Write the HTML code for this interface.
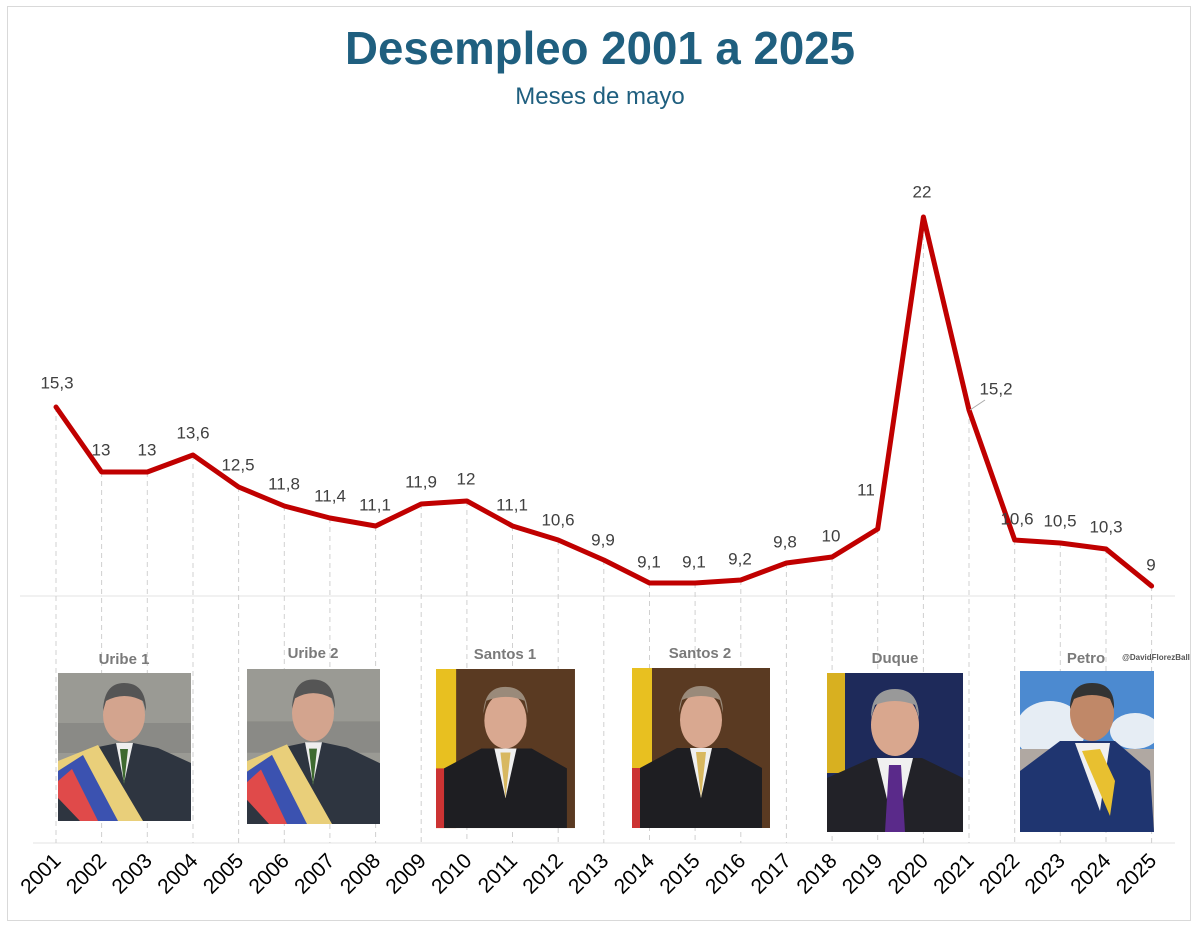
<!DOCTYPE html>
<html><head><meta charset="utf-8"><style>
html,body{margin:0;padding:0;background:#fff}
svg{display:block}
</style></head><body>
<svg width="1200" height="926" viewBox="0 0 1200 926" xmlns="http://www.w3.org/2000/svg" font-family="Liberation Sans, sans-serif">
<rect x="0" y="0" width="1200" height="926" fill="#fff"/>
<rect x="7.5" y="6.5" width="1183" height="914" fill="none" stroke="#d9d9d9" stroke-width="1"/>
<text x="600" y="64" text-anchor="middle" font-size="46" font-weight="bold" fill="#1f5f7f" textLength="510" lengthAdjust="spacingAndGlyphs">Desempleo 2001 a 2025</text>
<text x="600" y="104" text-anchor="middle" font-size="24" fill="#1f5f7f">Meses de mayo</text>
<line x1="20" y1="596" x2="1175" y2="596" stroke="#e3e3e3" stroke-width="1"/>
<line x1="33" y1="843" x2="1175" y2="843" stroke="#e3e3e3" stroke-width="1"/>
<g stroke="#d0d0d0" stroke-width="1" stroke-dasharray="5,4">
<line x1="56" y1="407" x2="56" y2="843"/><line x1="101.6" y1="472" x2="101.6" y2="843"/><line x1="147.3" y1="472" x2="147.3" y2="843"/><line x1="193" y1="455" x2="193" y2="843"/><line x1="238.6" y1="487" x2="238.6" y2="843"/><line x1="284.3" y1="506" x2="284.3" y2="843"/><line x1="329.9" y1="518" x2="329.9" y2="843"/><line x1="375.6" y1="526" x2="375.6" y2="843"/><line x1="421.2" y1="504" x2="421.2" y2="843"/><line x1="466.9" y1="501" x2="466.9" y2="843"/><line x1="512.5" y1="526" x2="512.5" y2="843"/><line x1="558.2" y1="540" x2="558.2" y2="843"/><line x1="603.8" y1="560" x2="603.8" y2="843"/><line x1="649.5" y1="583" x2="649.5" y2="843"/><line x1="695.1" y1="583" x2="695.1" y2="843"/><line x1="740.8" y1="580" x2="740.8" y2="843"/><line x1="786.4" y1="563" x2="786.4" y2="843"/><line x1="832.1" y1="557" x2="832.1" y2="843"/><line x1="877.7" y1="529" x2="877.7" y2="843"/><line x1="923.4" y1="217" x2="923.4" y2="843"/><line x1="969" y1="410" x2="969" y2="843"/><line x1="1014.7" y1="540" x2="1014.7" y2="843"/><line x1="1060.3" y1="543" x2="1060.3" y2="843"/><line x1="1106" y1="549" x2="1106" y2="843"/><line x1="1151.6" y1="586" x2="1151.6" y2="843"/>
</g>
<polyline fill="none" stroke="#c00000" stroke-width="5" stroke-linejoin="round" stroke-linecap="round" points="56,407 101.6,472 147.3,472 193,455 238.6,487 284.3,506 329.9,518 375.6,526 421.2,504 466.9,501 512.5,526 558.2,540 603.8,560 649.5,583 695.1,583 740.8,580 786.4,563 832.1,557 877.7,529 923.4,217 969,410 1014.7,540 1060.3,543 1106,549 1151.6,586"/>
<line x1="970" y1="410" x2="985" y2="400" stroke="#aaa" stroke-width="1"/>
<g font-size="17" fill="#404040" text-anchor="middle" dominant-baseline="middle">
<text x="57" y="384">15,3</text><text x="101" y="451">13</text><text x="147" y="451">13</text><text x="193" y="434">13,6</text><text x="238" y="466">12,5</text><text x="284" y="485">11,8</text><text x="330" y="497">11,4</text><text x="375" y="506">11,1</text><text x="421" y="483">11,9</text><text x="466" y="480">12</text><text x="512" y="506">11,1</text><text x="558" y="521">10,6</text><text x="603" y="541">9,9</text><text x="649" y="563">9,1</text><text x="694" y="563">9,1</text><text x="740" y="560">9,2</text><text x="785" y="543">9,8</text><text x="831" y="537">10</text><text x="866" y="491">11</text><text x="922" y="193">22</text><text x="996" y="390">15,2</text><text x="1017" y="520">10,6</text><text x="1060" y="522">10,5</text><text x="1106" y="528">10,3</text><text x="1151" y="566">9</text>
</g>
<g font-size="15" font-weight="bold" fill="#7a7a7a" text-anchor="middle">
<text x="124" y="664">Uribe 1</text><text x="313" y="658">Uribe 2</text><text x="505" y="659">Santos 1</text><text x="700" y="658">Santos 2</text><text x="895" y="663">Duque</text><text x="1086" y="663">Petro</text>
</g>
<text x="1156" y="660" font-size="8" font-weight="bold" fill="#555" text-anchor="middle">@DavidFlorezBall</text>
<defs>
<clipPath id="cp"><rect width="134" height="161"/></clipPath>
<g id="uribe">
<rect x="0" y="0" width="133" height="148" fill="#9a9a94"/>
<rect x="0" y="50" width="133" height="30" fill="#8a8a86"/>
<path d="M0,148 L0,95 L35,75 L60,70 L75,70 L100,75 L133,90 L133,148Z" fill="#2e3540"/>
<path d="M0,88 L40,72 L85,148 L40,148 L0,108Z" fill="#e9cf7a"/>
<path d="M0,98 L25,82 L60,148 L38,148 L0,115Z" fill="#3b52b0"/>
<path d="M0,108 L14,96 L40,148 L22,148 L0,125Z" fill="#e04a4a"/>
<path d="M58,70 L66,110 L75,70Z" fill="#eee"/>
<path d="M62,76 L66,112 L70,76Z" fill="#3e6a30"/>
<ellipse cx="66" cy="42" rx="21" ry="27" fill="#d3a48e"/>
<path d="M45,38 Q46,10 66,10 Q88,10 88,38 L85,28 Q66,18 48,28Z" fill="#555"/>
</g>
<g id="santos">
<rect x="0" y="0" width="138" height="160" fill="#5a3a22"/>
<rect x="0" y="0" width="20" height="160" fill="#e8c020"/>
<rect x="0" y="100" width="20" height="60" fill="#c33"/>
<path d="M8,160 L8,100 L45,80 L95,80 L130,100 L130,160Z" fill="#1e1e22"/>
<path d="M58,80 L69,130 L80,80Z" fill="#f0f0f0"/>
<path d="M64,84 L69,130 L74,84Z" fill="#d8b860"/>
<ellipse cx="69" cy="52" rx="21" ry="28" fill="#d9a890"/>
<path d="M47,45 Q48,18 69,18 Q91,18 91,45 L88,32 Q69,24 50,32Z" fill="#9a8a7a"/>
</g>
</defs>
<use href="#uribe" x="58" y="673"/>
<use href="#uribe" transform="translate(247,669) scale(1,1.047)"/>
<use href="#santos" transform="translate(436,669) scale(1.007,0.994)"/>
<use href="#santos" x="632" y="668"/>
<g transform="translate(827,673)">
<rect width="136" height="159" fill="#1e2a5a"/>
<rect width="18" height="100" fill="#d8b020"/>
<path d="M0,159 L0,105 L45,85 L95,85 L136,105 L136,159Z" fill="#222228"/>
<path d="M50,85 L68,159 L86,85Z" fill="#f0f0f0"/>
<path d="M62,92 L58,159 L78,159 L74,92Z" fill="#5a2a8a"/>
<ellipse cx="68" cy="52" rx="24" ry="31" fill="#d9a78e"/>
<path d="M44,45 Q44,16 68,16 Q92,16 92,45 L88,32 Q68,24 48,32Z" fill="#999"/>
</g>
<g transform="translate(1020,671)" clip-path="url(#cp)">
<rect width="134" height="161" fill="#4c8ad0"/>
<ellipse cx="30" cy="60" rx="35" ry="30" fill="#e6edf4"/>
<ellipse cx="115" cy="60" rx="25" ry="18" fill="#e6edf4"/>
<rect y="78" width="134" height="83" fill="#b0a8a2"/>
<path d="M0,161 L0,100 L40,70 L95,70 L130,100 L134,161Z" fill="#1f3570"/>
<path d="M55,72 L80,140 L90,72Z" fill="#f0f0f0"/>
<path d="M62,80 L90,145 L95,110 L80,78Z" fill="#e8c030"/>
<ellipse cx="72" cy="42" rx="22" ry="28" fill="#c08868"/>
<path d="M50,38 Q50,12 72,12 Q95,12 94,38 L90,28 Q72,20 54,28Z" fill="#333"/>
</g>
<g font-size="21" fill="#000" text-anchor="end">
<text transform="translate(62,862) rotate(-45)">2001</text><text transform="translate(107.6,862) rotate(-45)">2002</text><text transform="translate(153.3,862) rotate(-45)">2003</text><text transform="translate(199,862) rotate(-45)">2004</text><text transform="translate(244.6,862) rotate(-45)">2005</text><text transform="translate(290.3,862) rotate(-45)">2006</text><text transform="translate(335.9,862) rotate(-45)">2007</text><text transform="translate(381.6,862) rotate(-45)">2008</text><text transform="translate(427.2,862) rotate(-45)">2009</text><text transform="translate(472.9,862) rotate(-45)">2010</text><text transform="translate(518.5,862) rotate(-45)">2011</text><text transform="translate(564.2,862) rotate(-45)">2012</text><text transform="translate(609.8,862) rotate(-45)">2013</text><text transform="translate(655.5,862) rotate(-45)">2014</text><text transform="translate(701.1,862) rotate(-45)">2015</text><text transform="translate(746.8,862) rotate(-45)">2016</text><text transform="translate(792.4,862) rotate(-45)">2017</text><text transform="translate(838.1,862) rotate(-45)">2018</text><text transform="translate(883.7,862) rotate(-45)">2019</text><text transform="translate(929.4,862) rotate(-45)">2020</text><text transform="translate(975,862) rotate(-45)">2021</text><text transform="translate(1020.7,862) rotate(-45)">2022</text><text transform="translate(1066.3,862) rotate(-45)">2023</text><text transform="translate(1112,862) rotate(-45)">2024</text><text transform="translate(1157.6,862) rotate(-45)">2025</text>
</g>
</svg>
</body></html>
